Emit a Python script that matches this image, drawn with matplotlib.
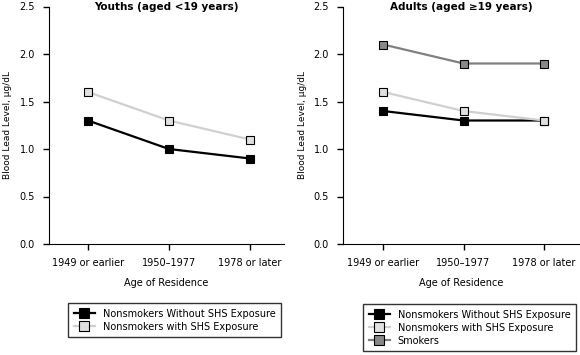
import numpy as np
import matplotlib.pyplot as plt

# Категории и значения
categories = ['1949 or earlier', '1950\u20131977', '1978 or later']
youth_no_shs = [1.3, 1.0, 0.9]
youth_shs = [1.6, 1.3, 1.1]
adult_no_shs = [1.4, 1.3, 1.3]
adult_shs = [1.6, 1.4, 1.3]
adult_smokers = [2.1, 1.9, 1.9]

plt.rcParams['font.family'] = ['Verdana', 'DejaVu Sans']
plt.rcParams['font.size'] = 7

W, H = 580, 355
fig = plt.figure(figsize=(W / 100, H / 100), dpi=100)

def px_axes(x0, x1, y0, y1):
    return fig.add_axes([x0 / W, 1 - y1 / H, (x1 - x0) / W, (y1 - y0) / H])

ax1 = px_axes(49, 284, 6.5, 244)
ax2 = px_axes(343, 580, 6.5, 244)

x = np.arange(len(categories))
styles = {
    'no': dict(color='black', mfc='black', mec='black'),
    'shs': dict(color='#d0d0d0', mfc='#e0e0e0', mec='black'),
    'smk': dict(color='#808080', mfc='#888888', mec='black'),
}

def draw(ax, series, title, xlim, ylab_px):
    for vals, key, label in series:
        st = styles[key]
        ax.plot(x, vals, color=st['color'], lw=1.6, marker='s', ms=5.5,
                mfc=st['mfc'], mec=st['mec'], mew=0.8, label=label)
    ax.set_xlim(*xlim)
    ax.set_ylim(0, 2.5)
    ax.set_yticks(np.arange(0, 2.51, 0.5))
    ax.set_yticklabels(['%.1f' % v for v in np.arange(0, 2.51, 0.5)])
    ax.set_xticks(x)
    ax.set_xticklabels(categories)
    for s in ['top', 'right']:
        ax.spines[s].set_visible(False)
    ax.tick_params(direction='out', length=4, width=1, pad=6)
    ax.set_xlabel('Age of Residence', labelpad=7)
    ax.set_ylabel('Blood Lead Level, \u00b5g/dL', fontsize=6.5)
    # положение подписи оси Y в пикселях
    ax.yaxis.set_label_coords(ylab_px / ax.bbox.width, 0.5)
    ax.text(0.5, 1.0, title, transform=ax.transAxes, ha='center', va='center',
            fontweight='bold', fontsize=7.5)

draw(ax1, [(youth_no_shs, 'no', 'Nonsmokers Without SHS Exposure'),
           (youth_shs, 'shs', 'Nonsmokers with SHS Exposure')],
     'Youths (aged <19 years)', (-0.48, 2.42), 12 - 49)
draw(ax2, [(adult_no_shs, 'no', 'Nonsmokers Without SHS Exposure'),
           (adult_shs, 'shs', 'Nonsmokers with SHS Exposure'),
           (adult_smokers, 'smk', 'Smokers')],
     'Adults (aged \u226519 years)', (-0.5, 2.45), 307 - 343)

for ax, (lx, ly) in [(ax1, (63, 298)), (ax2, (358, 299))]:
    leg = ax.legend(loc='upper left', bbox_to_anchor=(lx / W, 1 - ly / H),
                    bbox_transform=fig.transFigure, frameon=True, fancybox=False,
                    edgecolor='black', borderpad=0.6, handlelength=2.2,
                    labelspacing=0.3, fontsize=7, markerscale=1.3)
    leg.get_frame().set_linewidth(1)

fig.savefig('out.png', dpi=100)
